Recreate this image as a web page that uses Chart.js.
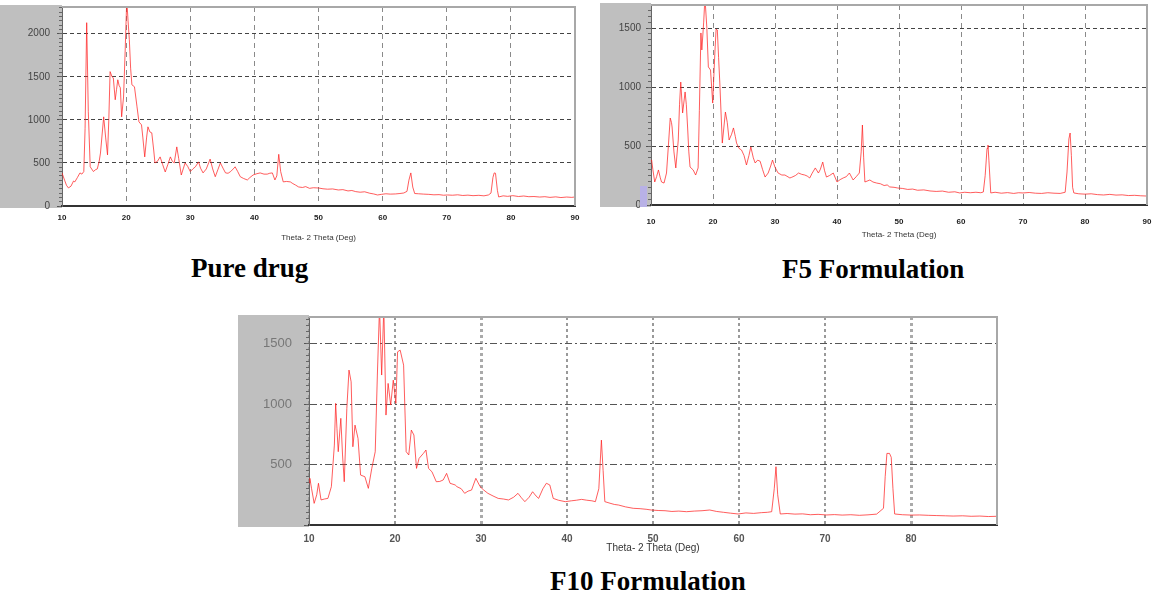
<!DOCTYPE html>
<html>
<head>
<meta charset="utf-8">
<script src="https://cdn.jsdelivr.net/npm/chart.js@4.4.1/dist/chart.umd.min.js"></script>
<style>
  body { margin: 0; background: #fff; width: 1155px; height: 596px; position: relative; overflow: hidden; }
  canvas { position: absolute; }
  .caption { position: absolute; font-family: "Liberation Serif", "Times New Roman", serif; font-weight: bold;
             font-size: 27px; line-height: 27px; color: #000; white-space: nowrap; }
</style>
</head>
<body>

<canvas id="pure" width="580" height="252" style="left:0;top:0"></canvas>
<canvas id="f5" width="555" height="252" style="left:600px;top:0"></canvas>
<canvas id="f10" width="770" height="250" style="left:235px;top:312px"></canvas>
<div style="position:absolute;left:640px;top:186px;width:7px;height:21px;background:#b8b1e6"></div>

<div class="caption" style="left:191px;top:255px">Pure drug</div>
<div class="caption" style="left:782px;top:256px">F5 Formulation</div>
<div class="caption" style="left:550px;top:568px">F10 Formulation</div>

<script>

const pureTheta = [10.0,10.4,10.7,11.0,11.4,11.8,12.0,12.4,12.8,13.1,13.4,13.6,13.85,14.1,14.4,14.9,15.2,15.5,15.8,16.0,
  16.5,16.8,17.1,17.3,17.5,17.8,18.0,18.3,18.5,18.7,18.9,19.1,19.3,19.6,19.85,20.1,20.3,20.5,20.7,20.9,
  21.3,21.7,22.0,22.4,22.6,22.9,23.2,23.4,23.7,24.0,24.3,24.5,24.9,25.3,25.7,26.1,26.5,26.9,27.2,27.5,
  27.9,28.2,28.6,28.9,29.2,29.6,30.0,30.4,30.8,31.3,31.6,32.0,32.5,33.1,33.5,33.9,34.3,34.7,35.1,35.5,
  35.9,36.3,36.7,37.0,37.4,37.8,38.3,38.9,39.3,39.8,40.4,40.9,41.5,42.0,42.4,42.8,43.2,43.5,43.8,44.1,
  44.5,45.0,45.6,46.0,46.4,46.9,47.5,48.0,48.6,49.2,50.0,50.7,51.4,52.2,53.1,53.8,54.6,55.2,55.8,56.5,
  57.2,58.0,58.6,59.2,59.8,60.5,61.2,62.0,62.7,63.3,63.8,64.1,64.4,64.7,65.0,65.6,66.4,67.2,68.0,68.8,
  69.5,70.1,70.9,71.7,72.5,73.3,74.1,75.0,75.8,76.5,76.9,77.2,77.4,77.6,77.9,78.1,78.8,79.5,80.3,81.2,
  82.0,82.8,83.6,84.5,85.3,86.1,87.0,87.8,88.7,89.5,90.0];
const pureCounts = [384,300,240,210,230,290,280,330,384,370,400,900,2128,1100,455,400,420,430,520,615,
  1035,800,593,1000,1560,1500,1488,1233,1350,1465,1400,1372,1035,1265,1800,2400,2150,1930,1600,1407,
  1384,1151,977,942,800,570,800,919,860,849,650,500,520,570,480,395,480,570,520,500,
  686,550,360,430,500,460,400,430,455,512,440,384,430,545,430,340,420,500,440,384,
  380,400,430,455,400,340,320,302,330,360,375,384,370,370,380,384,302,350,600,400,
  280,285,280,260,244,221,215,225,205,212,209,200,195,198,186,190,175,180,167,160,
  165,148,140,128,135,142,138,140,145,151,170,300,384,220,145,142,138,135,130,132,
  125,128,125,130,122,126,120,124,118,128,150,330,384,380,180,105,118,112,120,110,
  116,108,110,104,108,100,106,98,104,100,105];

const f5Theta = [10.0,10.1,10.3,10.6,10.9,11.2,11.5,11.7,12.1,12.5,12.8,13.1,13.3,13.4,13.7,14.0,14.4,14.6,14.8,15.1,
  15.5,15.7,15.9,16.1,16.3,16.8,17.2,17.6,17.8,18.05,18.2,18.5,18.7,19.0,19.25,19.6,19.95,20.1,20.3,20.5,
  20.7,20.9,21.1,21.5,22.0,22.3,22.6,23.0,23.3,23.6,23.8,24.2,24.6,25.0,25.4,25.8,26.1,26.5,26.8,27.2,
  27.6,28.0,28.4,28.9,29.3,29.6,30.0,30.5,31.1,31.6,32.4,32.7,33.3,33.8,34.3,34.8,35.2,35.6,36.0,36.5,
  37.0,37.3,37.7,38.0,38.3,38.8,39.4,40.0,40.5,41.0,41.5,42.0,42.6,43.1,43.6,43.9,44.1,44.3,44.5,45.3,
  45.8,46.4,47.0,47.6,48.1,48.5,49.2,49.8,50.6,51.4,52.2,53.0,54.0,55.0,56.0,57.0,58.0,59.0,59.8,60.6,
  61.5,62.4,63.2,63.6,63.9,64.2,64.35,64.5,64.8,65.5,66.5,67.5,68.5,69.3,70.0,71.0,72.0,73.0,74.0,75.0,
  76.0,76.8,77.1,77.4,77.6,77.8,78.0,78.2,79.0,80.0,81.0,82.0,83.0,84.0,85.0,86.0,87.0,88.0,89.0,90.0];
const f5Counts = [380,381,300,195,240,297,230,195,186,271,500,737,700,661,450,314,551,850,1042,780,
  958,850,661,450,322,297,254,314,800,1458,1314,1550,1760,1508,1170,1144,864,1050,1288,1490,
  1483,1250,1034,525,788,700,551,600,653,580,525,480,466,420,339,420,492,400,356,380,
  371,300,237,271,330,381,320,271,254,254,229,235,250,271,260,254,245,229,270,314,
  271,300,364,290,237,250,271,195,215,229,240,271,212,240,271,450,678,400,195,212,
  195,186,180,165,170,153,150,144,140,132,135,125,128,119,115,118,108,112,102,108,
  104,108,104,110,250,480,508,380,102,108,100,105,98,104,102,106,100,98,104,100,
  98,108,280,560,610,420,150,102,95,92,95,88,85,90,84,86,80,82,78,76];

const f10Theta = [10.0,10.1,10.3,10.6,10.9,11.1,11.4,11.8,12.2,12.6,12.95,13.1,13.25,13.4,13.7,13.9,14.1,14.4,14.65,14.9,
  15.1,15.35,15.7,16.0,16.5,16.9,17.3,17.7,17.95,18.2,18.45,18.7,18.95,19.2,19.5,19.8,20.1,20.3,20.6,21.0,
  21.3,21.6,21.9,22.2,22.5,22.8,23.3,23.6,23.9,24.3,24.8,25.2,25.6,26.0,26.4,27.0,27.2,27.7,28.1,28.5,
  28.9,29.4,29.9,30.3,30.8,31.4,32.0,32.6,33.2,33.8,34.3,34.7,35.1,35.6,36.0,36.4,36.7,37.2,37.6,38.0,
  38.4,39.0,39.8,40.5,41.1,41.7,42.3,42.9,43.3,43.7,44.0,44.2,44.4,45.0,45.5,46.0,46.8,47.7,48.5,49.2,
  49.8,50.6,51.4,52.2,53.0,53.9,54.8,55.7,56.6,57.4,58.2,59.0,59.9,60.8,61.7,62.6,63.3,63.8,64.1,64.3,
  64.5,64.8,65.6,66.5,67.4,68.3,69.2,70.2,71.1,72.0,73.0,74.0,75.0,76.0,76.8,77.0,77.2,77.5,77.7,77.9,
  78.1,79.0,80.0,81.0,82.0,83.0,84.0,84.9,86.0,87.0,88.0,89.0,90.0];
const f10Counts = [350,386,300,179,250,345,207,215,220,317,661,1006,800,606,882,579,358,964,1281,1184,
  647,826,716,413,399,303,468,606,1240,1800,1240,1800,909,1171,992,1198,1006,1432,1446,1322,
  606,579,785,744,468,551,592,620,468,440,358,360,372,427,345,331,317,300,262,280,
  289,386,317,290,262,240,220,215,207,230,262,225,193,230,275,240,220,300,345,331,
  220,205,193,200,205,212,205,200,193,300,702,450,193,180,170,165,150,138,135,130,
  124,120,118,112,115,110,115,118,124,112,105,98,91,100,96,102,105,110,300,482,
  250,91,95,90,92,85,88,83,86,82,85,80,84,90,138,400,592,592,560,300,
  91,85,82,83,80,78,76,74,76,72,74,70,72];

const xTicks = [10, 20, 30, 40, 50, 60, 70, 80, 90];
const pureYTicks = [0, 500, 1000, 1500, 2000];
const f5YTicks = [0, 500, 1000, 1500];
const f10YTicks = [0, 500, 1000, 1500];
const pureYMax = 2310, f5YMax = 1695, f10YMax = 1720;
const yMinorStep = 50;

const toPoints = (xs, ys) => xs.map((x, i) => ({ x: x, y: ys[i] }));

// small marks every 50 counts along the left edge
const minorTicks = max => {
  const out = [];
  for (let v = 0; v <= max; v += yMinorStep) out.push({ value: v });
  return out;
};

// keep the plot box exactly where it is in the picture (no extra room for edge labels)
const noEdgePad = scale => {
  scale.paddingTop = 0; scale.paddingBottom = 0;
  scale.paddingLeft = 0; scale.paddingRight = 0;
};

// grey box behind the y labels and the thin frame on top / right
const panelPlugin = {
  id: 'panel',
  beforeDraw(chart, args, opts) {
    const { ctx, chartArea: a } = chart;
    ctx.save();
    ctx.fillStyle = '#bfbfbf';
    ctx.fillRect(opts.left, a.top - opts.up, a.left - opts.left, a.bottom - a.top + opts.up + opts.down);
    ctx.restore();
  },
  afterDraw(chart, args, opts) {
    const { ctx, chartArea: a } = chart;
    ctx.save();
    ctx.strokeStyle = opts.frame;
    ctx.lineWidth = 2;
    ctx.beginPath();
    ctx.moveTo(a.left, a.top);
    ctx.lineTo(a.right, a.top);
    ctx.lineTo(a.right, a.bottom);
    ctx.stroke();
    ctx.restore();
  }
};

function makeXrd(id, s) {
  return new Chart(document.getElementById(id), {
    type: 'scatter',
    data: {
      datasets: [{
        data: toPoints(s.xs, s.ys),
        showLine: true,
        borderColor: 'rgba(255,30,30,0.72)',
        borderWidth: 1,
        pointRadius: 0,
        tension: 0
      }]
    },
    options: {
      responsive: false,
      animation: false,
      layout: { padding: { left: 0, top: s.padTop, right: s.padRight, bottom: 0 } },
      plugins: {
        legend: { display: false },
        tooltip: { enabled: false },
        panel: { left: s.greyLeft, up: 2, down: 2, frame: '#a8a8a8' }
      },
      scales: {
        x: {
          type: 'linear',
          min: 10, max: 90,
          afterBuildTicks: scale => { scale.ticks = xTicks.map(v => ({ value: v })); },
          afterFit: scale => { scale.height = s.xHeight; noEdgePad(scale); },
          grid: { color: s.vGridColor, lineWidth: s.vGridWidth, drawTicks: false },
          border: { color: '#333', width: 2, dash: s.vDash },
          ticks: {
            autoSkip: false,
            padding: s.xTickPad,
            color: s.tickColor,
            font: { family: 'Liberation Sans', size: s.xFont, weight: 'bold' },
            maxRotation: 0,
            callback: v => (s.hide90 && v === 90) ? '' : v
          },
          title: {
            display: true,
            text: 'Theta- 2 Theta (Deg)',
            color: '#333',
            font: { family: 'Liberation Sans', size: s.titleFont },
            padding: { top: 0, bottom: s.titlePad }
          }
        },
        y: {
          min: 0, max: s.yMax,
          weight: 1,
          afterBuildTicks: scale => { scale.ticks = s.yTicks.map(v => ({ value: v })); },
          afterFit: scale => { scale.width = s.yWidth; noEdgePad(scale); },
          grid: { color: s.hGridColor, lineWidth: 1, tickLength: 5, tickColor: '#555', tickBorderDash: [] },
          border: { color: '#666', width: 1, dash: s.hDash },
          ticks: {
            autoSkip: false,
            padding: s.yTickPad,
            color: s.yTickColor,
            font: { family: 'Liberation Sans', size: s.yFont },
            callback: v => (s.hideZero && v === 0) ? '' : v
          }
        },
        yMinor: {
          position: 'left',
          min: 0, max: s.yMax,
          weight: 0,
          afterBuildTicks: scale => { scale.ticks = minorTicks(s.yMax); },
          afterFit: scale => { scale.width = 0; noEdgePad(scale); },
          grid: { drawOnChartArea: false, tickLength: 3, tickColor: '#666' },
          border: { display: false },
          ticks: { autoSkip: false, display: false }
        }
      }
    },
    plugins: [panelPlugin]
  });
}

makeXrd('pure', {
  xs: pureTheta, ys: pureCounts, yMax: pureYMax, yTicks: pureYTicks,
  padTop: 7, padRight: 5, yWidth: 62, xHeight: 46, greyLeft: 0,
  xTickPad: 7, xFont: 8, titleFont: 8, titlePad: 9,
  yTickPad: 7, yFont: 10, tickColor: '#222', yTickColor: '#444',
  vGridColor: '#8a8a8a', vGridWidth: 1, vDash: [5, 4], hGridColor: '#444', hDash: [4, 3],
  hide90: false, hideZero: false
});

makeXrd('f5', {
  xs: f5Theta, ys: f5Counts, yMax: f5YMax, yTicks: f5YTicks,
  padTop: 5, padRight: 8, yWidth: 51, xHeight: 47, greyLeft: 0,
  xTickPad: 12, xFont: 8, titleFont: 8, titlePad: 12,
  yTickPad: 5, yFont: 10, tickColor: '#222', yTickColor: '#444',
  vGridColor: '#8a8a8a', vGridWidth: 1, vDash: [5, 4], hGridColor: '#444', hDash: [4, 3],
  hide90: false, hideZero: false
});

makeXrd('f10', {
  xs: f10Theta, ys: f10Counts, yMax: f10YMax, yTicks: f10YTicks,
  padTop: 5, padRight: 8, yWidth: 74, xHeight: 37, greyLeft: 3,
  xTickPad: 8, xFont: 10, titleFont: 10, titlePad: 8,
  yTickPad: 12, yFont: 13, tickColor: '#555', yTickColor: '#777',
  vGridColor: ctx => (ctx.tick && (ctx.tick.value === 30 || ctx.tick.value === 80)) ? '#aaa' : '#999',
  vGridWidth: ctx => (ctx.tick && (ctx.tick.value === 30 || ctx.tick.value === 80)) ? 3 : 2,
  vDash: [3, 3], hGridColor: '#555', hDash: [7, 3, 2, 3],
  hide90: true, hideZero: true
});
</script>
</body>
</html>
